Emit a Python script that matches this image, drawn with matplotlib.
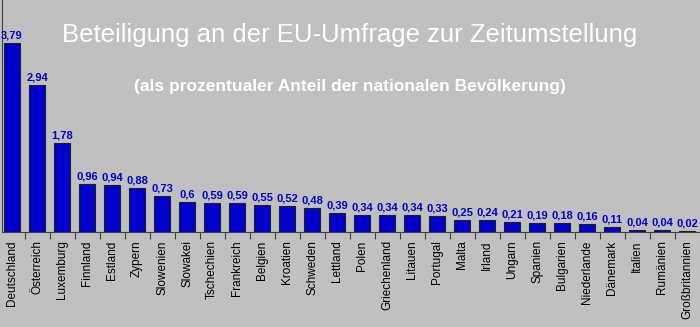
import numpy as np
import matplotlib.pyplot as plt
from matplotlib.ticker import FixedLocator

laender = ["Deutschland", "Österreich", "Luxemburg", "Finnland", "Estland", "Zypern",
           "Slowenien", "Slowakei", "Tschechien", "Frankreich", "Belgien", "Kroatien",
           "Schweden", "Lettland", "Polen", "Griechenland", "Litauen", "Portugal",
           "Malta", "Irland", "Ungarn", "Spanien", "Bulgarien", "Niederlande",
           "Dänemark", "Italien", "Rumänien", "Großbritannien"]
anteil = [3.79, 2.94, 1.78, 0.96, 0.94, 0.88, 0.73, 0.6, 0.59, 0.59, 0.55, 0.52,
          0.48, 0.39, 0.34, 0.34, 0.34, 0.33, 0.25, 0.24, 0.21, 0.19, 0.18, 0.16,
          0.11, 0.04, 0.04, 0.02]

grau = "#c0c0c0"
plt.rcParams["font.family"] = ["Liberation Sans", "DejaVu Sans"]

fig = plt.figure(figsize=(7, 3.27), dpi=100, facecolor=grau)
ax = fig.add_axes([2 / 700, 95 / 327, 698 / 700, 232 / 327])
ax.set_facecolor(grau)

x = np.arange(len(laender))
ax.bar(x, anteil, width=0.64, color="#0000cc", edgecolor="#202020", linewidth=0.8)

# Werte ueber den Balken, mit Komma
for xi, v in zip(x, anteil):
    txt = ("%.2f" % v).rstrip("0").replace(".", ",")
    ax.text(xi, v + 0.05, txt, ha="center", va="bottom", color="#0000cc",
            fontsize=8, fontweight="bold")

ax.set_xlim(-0.4, 27.52)
ax.set_ylim(0, 4.65)
ax.set_yticks([])
ax.set_xticks(x)
ax.set_xticklabels(laender, rotation=90, fontsize=8.5)
ax.tick_params(axis="x", which="major", length=0, pad=6)
ax.xaxis.set_minor_locator(FixedLocator(x[:-1] + 0.5))
ax.tick_params(axis="x", which="minor", length=5, width=0.8, color="#404040")
for s in ["top", "right"]:
    ax.spines[s].set_visible(False)
ax.spines["left"].set_color("#404040")
ax.spines["bottom"].set_color("#404040")

fig.text(0.5, 1 - 35 / 327, "Beteiligung an der EU-Umfrage zur Zeitumstellung",
         ha="center", va="center", color="white", fontsize=18.5)
fig.text(0.5, 1 - 87 / 327, "(als prozentualer Anteil der nationalen Bevölkerung)",
         ha="center", va="center", color="white", fontsize=12.5, fontweight="bold")

fig.savefig("out.png", dpi=100, facecolor=grau)
